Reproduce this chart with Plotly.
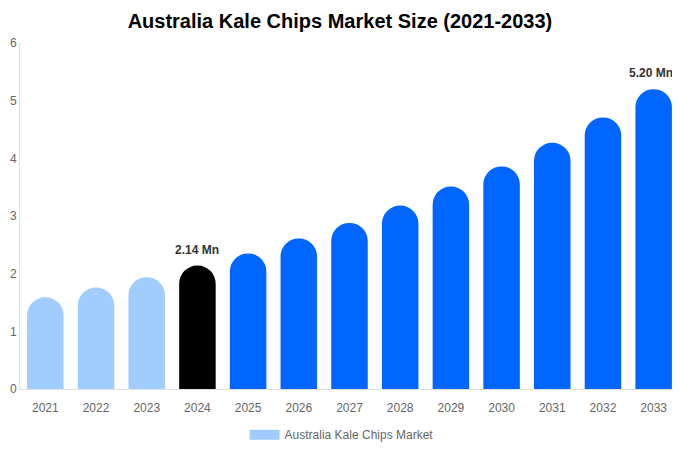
import plotly.graph_objects as go

# Australia kale chips market size, USD Mn
years = ["2021", "2022", "2023", "2024", "2025", "2026", "2027",
         "2028", "2029", "2030", "2031", "2032", "2033"]
values = [1.59, 1.76, 1.94, 2.14, 2.35, 2.61, 2.88, 3.18, 3.51, 3.86, 4.27, 4.71, 5.20]
labeled_years = ["2024", "2033"]

LIGHT = "#A0CDFD"
BASE = "#000000"
BLUE = "#0066FF"

colors = []
for y in years:
    if int(y) < 2024:
        colors.append(LIGHT)
    elif y == "2024":
        colors.append(BASE)
    else:
        colors.append(BLUE)

fig = go.Figure()
fig.add_trace(go.Bar(
    x=years,
    y=values,
    marker=dict(color=colors, cornerradius="50%", line=dict(width=0)),
    showlegend=False,
    hovertemplate="%{x}: %{y:.2f} Mn<extra></extra>",
))

# legend entry only (wide swatch like the original)
fig.add_trace(go.Scatter(
    x=[years[0]], y=[None], mode="lines",
    line=dict(color=LIGHT, width=12),
    name="Australia Kale Chips Market",
    hoverinfo="skip",
))

# category axis: annotations are placed by category index
for i, (y, v) in enumerate(zip(years, values)):
    if y in labeled_years:
        # nudge the last label in so it isn't clipped at the right edge
        shift = -3 if i == len(years) - 1 else 0
        fig.add_annotation(
            x=i, y=v, text=f"<b>{v:.2f} Mn</b>", showarrow=False,
            yanchor="bottom", yshift=7, xshift=shift,
            font=dict(size=12, color="#333333"),
        )

# page body adds an 8px margin, so the figure is a bit smaller than the window
fig.update_layout(
    title=dict(text="<b>Australia Kale Chips Market Size (2021-2033)</b>",
               x=0.494, xanchor="center", y=0.9706, yanchor="middle",
               font=dict(size=20, color="#000000")),
    font=dict(family="Liberation Sans, Arial, sans-serif", size=12, color="#666666"),
    width=672, height=442,
    margin=dict(l=12, r=1, t=35, b=61),
    paper_bgcolor="white",
    plot_bgcolor="white",
    bargap=0.28,
    legend=dict(orientation="h", x=0.488, xanchor="center", y=-0.09, yanchor="top",
                font=dict(size=12, color="#666666")),
)
fig.update_xaxes(type="category", range=[-0.5, len(years) - 0.5],
                 showgrid=False, showline=True, linecolor="#E0E0E0",
                 ticks="", ticklabelstandoff=8,
                 tickfont=dict(size=12, color="#666666"))
fig.update_yaxes(range=[0, 6], dtick=1, showgrid=False, zeroline=False,
                 showline=True, linecolor="#E0E0E0", ticks="",
                 tickfont=dict(size=12, color="#666666"))

fig.write_html("out.html")
